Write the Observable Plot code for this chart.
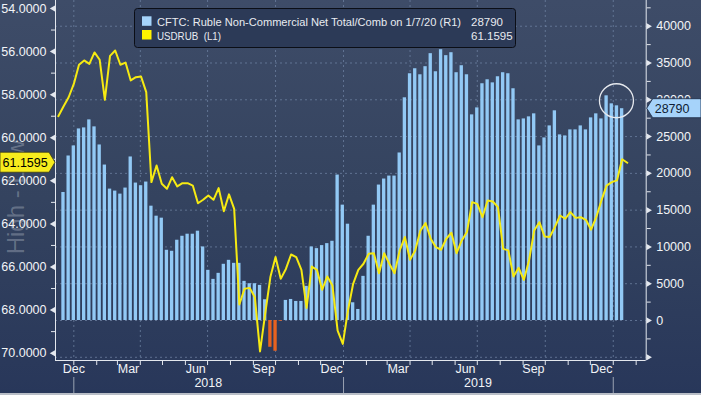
<!DOCTYPE html>
<html>
<head>
<meta charset="utf-8">
<script src="https://cdn.jsdelivr.net/npm/d3@7"></script>
<script src="https://cdn.jsdelivr.net/npm/@observablehq/plot@0.6"></script>
<style>
html,body{margin:0;padding:0;}
body{width:701px;height:395px;overflow:hidden;background:linear-gradient(180deg,#3e4c68 0%,#34435f 50%,#28375a 100%);}
#wrap{position:relative;width:701px;height:395px;}
#wrap svg{position:absolute;left:0;top:0;}
</style>
</head>
<body>
<div id="wrap"></div>
<script>
// ---------------- data ----------------
const barStart = "2017-12-18";   // first plotted weekly CFTC bar
const cftcNet = [
  17400,22360,23730,26040,26180,27270,26320,23860,21130,17860,
  17590,17180,18000,22230,18680,18320,18820,15540,14180,13910,
  9545,9410,10910,11450,11730,11730,12140,10000,6820,5590,
  6410,7640,8180,7770,7770,5320,5000,5000,4770,2820,
  -3640,-4180,-100,2730,2860,2590,2590,4640,10000,9770,
  10180,10450,10770,19770,15680,13090,2410,1500,6000,11450,
  15680,18410,19230,19630,19630,22770,30270,33540,34220,33400,
  34500,36270,33810,36810,36000,36400,33680,34630,33400,27950,
  28900,32180,32720,32300,33130,33680,33540,31500,27270,27400,
  27680,28090,23730,24820,26450,28500,25230,25090,25910,25910,
  26450,25910,27540,28090,27400,30540,29450,29180,28790
];
const lineStart = "2017-12-11";  // first weekly USDRUB point
const usdrub = [
  59.00,58.55,58.12,57.50,56.61,56.41,56.57,56.04,56.38,58.24,
  56.20,55.95,56.61,56.51,57.34,57.19,57.16,57.88,62.06,61.29,
  62.14,62.37,61.83,62.26,62.11,62.11,62.22,63.04,62.88,62.68,
  62.88,62.34,63.41,62.63,63.30,67.74,67.01,66.97,67.40,69.92,
  68.17,66.47,65.54,66.55,66.09,65.42,65.54,66.13,67.90,65.98,
  66.13,67.06,66.44,66.86,68.95,69.57,68.02,66.78,66.13,65.85,
  65.39,65.36,66.29,65.36,65.85,66.29,65.23,64.61,65.67,65.23,
  64.31,63.96,64.69,65.08,65.20,64.69,64.41,65.36,64.77,64.38,
  62.99,63.07,63.69,62.91,62.96,63.22,65.16,65.23,66.44,66.04,
  66.60,65.70,64.31,63.92,64.58,64.61,64.15,63.61,63.76,63.45,
  63.72,63.69,63.81,64.27,63.69,62.91,62.22,62.06,61.98,61.00,
  61.1595
];
const leftTicks = [54,56,58,60,62,64,66,68,70];
const leftMinor = [55,57,59,61,63,65,67,69];
const rightTicks = [-5000,0,5000,10000,15000,20000,25000,30000,35000,40000];
const rightMinor = [-2500,2500,7500,12500,17500,22500,27500,32500,37500,42500];
const monthLabels = ["Dec","Mar","Jun","Sep","Dec","Mar","Jun","Sep","Dec"];
const monthLabelDates = ["2018-01-01","2018-03-16","2018-06-15","2018-09-15","2018-12-16","2019-03-16","2019-06-15","2019-09-15","2019-12-16"];
const yearLabels = ["2018","2019"];
const yearLabelDates = ["2018-07-02","2019-07-02"];
const legendNames = ["CFTC: Ruble Non-Commercial Net Total/Comb on 1/7/20 (R1)", "USDRUB  (L1)"];
const legendValues = ["28790", "61.1595"];
const watermark = "High - Low";

// ---------------- setup ----------------
const parse = d3.utcParse("%Y-%m-%d");
const b0 = parse(barStart), l0 = parse(lineStart);
const bars = cftcNet.map((v, i) => ({date: d3.utcDay.offset(b0, 7 * i), v}));
const line = usdrub.map((u, i) => ({date: d3.utcDay.offset(l0, 7 * i), u}));
// left (inverted) axis expressed on the right-axis scale
const toRight = u => 42408 - 2927.9 * (u - 54);
const xDomain = [new Date(Date.UTC(2017, 11, 7, 5)), new Date(Date.UTC(2020, 1, 14, 14))];
const yDomain = [-5437, 43496];
const monthStarts = d3.utcMonth.range(parse("2018-01-01"), parse("2020-02-02"));
const quarterStarts = d3.utcMonth.every(3).range(parse("2018-01-01"), parse("2020-01-02"));
const yearStarts = d3.utcYear.range(parse("2018-01-01"), parse("2020-01-02"));

const AX = "#e3e7ee", GRID = "#6f83a3", TXT = "#f2f4f7";
const BLUE = "#92c9f5", SWATCH = "#a5d4fb", ORANGE = "#e8621f", YELLOW = "#f6ea12";
const FONT = "'Liberation Sans', Arial, sans-serif";

const chart = Plot.plot({
  width: 701, height: 395,
  marginLeft: 55, marginRight: 55.3, marginTop: 0, marginBottom: 35,
  style: {background: "transparent", fontFamily: FONT, fontSize: "12.5px", color: TXT, overflow: "visible"},
  x: {type: "utc", domain: xDomain, axis: null, label: null},
  y: {domain: yDomain, axis: null, label: null},
  marks: [
    Plot.ruleY(rightTicks, {stroke: GRID, strokeOpacity: 0.75, strokeDasharray: "2,3"}),
    Plot.ruleX(quarterStarts, {stroke: GRID, strokeOpacity: 0.75, strokeDasharray: "2,3"}),
    Plot.rectY(bars, {
      x1: d => d3.utcHour.offset(d.date, -54),
      x2: d => d3.utcHour.offset(d.date, 54),
      y1: 0, y2: "v",
      fill: d => d.v < 0 ? ORANGE : BLUE
    }),
    Plot.line(line, {x: "date", y: d => toRight(d.u), stroke: YELLOW, strokeWidth: 2}),
    Plot.ruleX(xDomain, {stroke: AX}),
    Plot.ruleY([yDomain[0]], {stroke: AX}),
    Plot.axisY(leftMinor.map(toRight), {anchor: "left", tickSize: 4, tickFormat: () => "", label: null, stroke: AX}),
    Plot.axisY(rightMinor, {anchor: "right", tickSize: 4, tickFormat: () => "", label: null, stroke: AX}),
    Plot.axisX(monthStarts, {anchor: "bottom", tickSize: 5, tickFormat: () => "", label: null, stroke: AX}),
    Plot.tickX(yearStarts, {stroke: "#9aa3b2", insetTop: 377, insetBottom: -35}),
    Plot.dot(leftTicks, {y: toRight, frameAnchor: "left", symbol: "triangle", rotate: -90, r: 2.4, fill: AX, stroke: null, dx: -2}),
    Plot.dot(rightTicks, {y: d => d, frameAnchor: "right", symbol: "triangle", rotate: 90, r: 2.4, fill: AX, stroke: null, dx: 2}),
    Plot.text(leftTicks, {y: toRight, frameAnchor: "left", text: d => d.toFixed(4), textAnchor: "end", dx: -9, fill: TXT}),
    Plot.text(rightTicks.filter(d => d >= 0), {y: d => d, frameAnchor: "right", text: d => String(d), textAnchor: "start", dx: 10, fill: TXT}),
    Plot.text(monthLabels, {x: (d, i) => parse(monthLabelDates[i]), frameAnchor: "bottom", text: d => d, dy: 12, fill: TXT}),
    Plot.text(yearLabels, {x: (d, i) => parse(yearLabelDates[i]), frameAnchor: "bottom", text: d => d, dy: 26, fill: TXT})
  ]
});

const wrap = document.getElementById("wrap");

// back layer: watermark
const back = d3.create("svg").attr("width", 701).attr("height", 395);
back.append("text")
  .attr("transform", "translate(16,197) rotate(-90)")
  .attr("text-anchor", "middle").attr("dy", "0.35em")
  .style("font-family", FONT).style("font-size", "24px")
  .attr("fill", "rgba(205,210,220,0.33)")
  .text(watermark);
wrap.appendChild(back.node());
wrap.appendChild(chart);

// front layer: legend, value tags, circle
const sx = chart.scale("x"), sy = chart.scale("y");
const front = d3.create("svg").attr("width", 701).attr("height", 395).style("pointer-events", "none");
const lg = front.append("g").style("font-family", FONT).style("font-size", "11.5px");
lg.append("rect").attr("x", 134.5).attr("y", 8.5).attr("width", 381).attr("height", 39).attr("rx", 3)
  .attr("fill", "#2c3a57").attr("stroke", "#0b0e16");
[SWATCH, "#fff200"].forEach((c, i) => {
  lg.append("rect").attr("x", 142).attr("y", 16.3 + i * 13.7).attr("width", 9.5).attr("height", 9.5).attr("fill", c);
});
const nameLen = [304, 64];
legendNames.forEach((t, i) => {
  lg.append("text").attr("x", 157).attr("y", 26 + i * 13.5).attr("fill", "#e8ebf0")
    .attr("textLength", nameLen[i]).attr("lengthAdjust", "spacingAndGlyphs")
    .attr("xml:space", "preserve").style("white-space", "pre").text(t);
});
legendValues.forEach((t, i) => {
  lg.append("text").attr("x", 471).attr("y", 26 + i * 13.5).attr("fill", "#e8ebf0").text(t);
});

// right tag (last bar)
const xR = 701 - 55.3;
const yB = sy.apply(cftcNet[cftcNet.length - 1]);
front.append("path")
  .attr("d", `M${xR + 1},${yB} L${xR + 7},${yB - 9.5} L701,${yB - 9.5} L701,${yB + 9.5} L${xR + 7},${yB + 9.5} Z`)
  .attr("fill", "#a6d3fa").attr("stroke", "#1b2a44").attr("stroke-width", 0.8);
front.append("text").attr("x", xR + 9).attr("y", yB).attr("dy", "0.36em").attr("fill", "#0f1c33")
  .style("font-family", FONT).style("font-size", "12.5px").text(legendValues[0]);

// left tag (last USDRUB)
const yL = sy.apply(toRight(usdrub[usdrub.length - 1]));
front.append("path")
  .attr("d", `M0,${yL - 10} L49,${yL - 10} L55,${yL} L49,${yL + 10} L0,${yL + 10} Z`)
  .attr("fill", "#f7ec1d").attr("stroke", "#3a3a1a").attr("stroke-width", 0.8);
front.append("text").attr("x", 2.5).attr("y", yL).attr("dy", "0.36em").attr("fill", "#000")
  .style("font-family", FONT).style("font-size", "12.5px").text(legendValues[1]);

// highlight circle around latest bars
front.append("circle").attr("cx", sx.apply(bars[107].date)).attr("cy", sy.apply(29800)).attr("r", 17)
  .attr("fill", "none").attr("stroke", "#e6e9ee").attr("stroke-width", 1.3);

// bottom border strip
front.append("rect").attr("x", 0).attr("y", 393).attr("width", 701).attr("height", 2).attr("fill", "#b9bec7");

wrap.appendChild(front.node());
</script>
</body>
</html>
